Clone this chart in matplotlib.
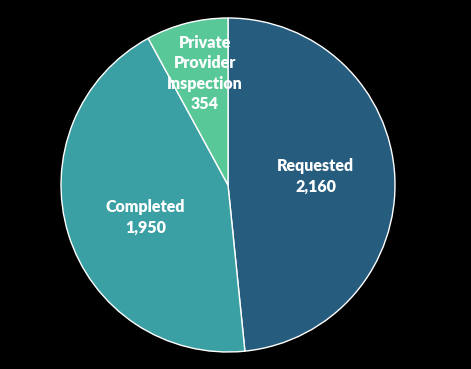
import numpy as np
import matplotlib
matplotlib.use("Agg")
import matplotlib.pyplot as plt

# data
labels = ["Requested", "Completed", "Private\nProvider\nInspection"]
values = [2160, 1950, 354]
colors = ["#265C7E", "#3AA0A4", "#59C898"]
label_dist = [0.52, 0.53, 0.69]
label_nudge = [(1, 4), (2, -6), (5, 0)]  # small pixel nudges of the labels

W, H = 471, 369
fig = plt.figure(figsize=(W / 100, H / 100), dpi=100, facecolor="black")
ax = fig.add_axes([0, 0, 1, 1])
ax.set_facecolor("black")

cx, cy, r = 228, H - 185, 167
wedges, _ = ax.pie(values, colors=colors, startangle=90, counterclock=False,
                   center=(cx, cy), radius=r, frame=True,
                   wedgeprops=dict(edgecolor="white", linewidth=1))
ax.set_xlim(0, W)
ax.set_ylim(0, H)
ax.axis("off")

for w, lab, val, d, (nx, ny) in zip(wedges, labels, values, label_dist, label_nudge):
    ang = np.deg2rad((w.theta1 + w.theta2) / 2)
    x = cx + d * r * np.cos(ang) + nx
    y = cy + d * r * np.sin(ang) + ny
    ax.text(x, y, f"{lab}\n{val:,}", ha="center", va="center", color="white",
            fontsize=11.5, fontweight="heavy", family="Lato", linespacing=1.35)

fig.savefig("out.png", dpi=100, facecolor="black")
